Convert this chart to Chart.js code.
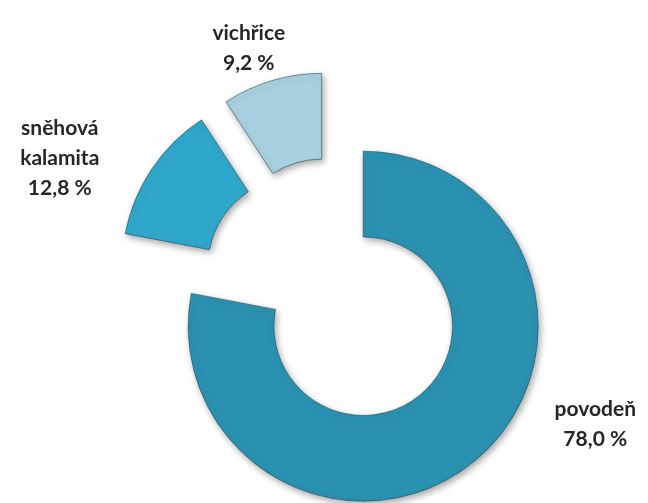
<!DOCTYPE html>
<html>
<head>
<meta charset="utf-8">
<script src="https://cdn.jsdelivr.net/npm/chart.js@4.4.1/dist/chart.umd.min.js"></script>
<style>
  html, body { margin: 0; padding: 0; background: #ffffff; }
  #wrap { width: 648px; height: 503px; }
</style>
</head>
<body>
<div id="wrap"><canvas id="c" width="648" height="503"></canvas></div>
<script>
// ---- data ----
const categories = ['povodeň', 'sněhová kalamita', 'vichřice'];
const categoryLines = [['povodeň'], ['sněhová', 'kalamita'], ['vichřice']];
const shares = [78.0, 12.8, 9.2];
const shareLabels = ['78,0 %', '12,8 %', '9,2 %'];

// ---- styles ----
const sliceColors = ['#2B91B1', '#2FA7CB', '#A9D0E0'];
const EXPLODE = 45;
// label anchors, in units of outer radius, relative to the ring centre
const labelAnchors = [[1.49, 0.76], [-1.57, -0.76], [-0.49, -1.39]];

const explodePlugin = {
  id: 'explode',
  beforeDatasetDraw(chart, args) {
    const ctx = chart.ctx;
    const meta = args.meta;
    meta.data.forEach((arc) => {
      const mid = (arc.startAngle + arc.endAngle) / 2;
      ctx.save();
      ctx.translate(Math.cos(mid) * EXPLODE, Math.sin(mid) * EXPLODE);
      ctx.shadowColor = 'rgba(0,0,0,0.35)';
      ctx.shadowBlur = 7;
      ctx.shadowOffsetX = 2;
      ctx.shadowOffsetY = 3;
      arc.draw(ctx);
      ctx.restore();
    });
    return false;
  },
  afterDraw(chart) {
    const ctx = chart.ctx;
    const arc0 = chart.getDatasetMeta(0).data[0];
    const cx = arc0.x, cy = arc0.y, R = arc0.outerRadius;
    ctx.save();
    ctx.fillStyle = '#262626';
    ctx.font = 'bold 21px Lato, "Open Sans", sans-serif';
    ctx.textAlign = 'center';
    ctx.textBaseline = 'middle';
    const lh = 30;
    categories.forEach((c, i) => {
      const lines = categoryLines[i].concat([shareLabels[i]]);
      const x = cx + labelAnchors[i][0] * R;
      const y = cy + labelAnchors[i][1] * R;
      const top = y - (lines.length - 1) * lh / 2;
      lines.forEach((t, j) => ctx.fillText(t, x, top + j * lh));
    });
    ctx.restore();
  }
};

new Chart(document.getElementById('c'), {
  type: 'doughnut',
  data: {
    labels: categories,
    datasets: [{
      data: shares,
      backgroundColor: sliceColors,
      borderColor: 'rgba(20,70,90,0.55)',
      borderWidth: 1
    }]
  },
  options: {
    responsive: false,
    animation: false,
    cutout: '51%',
    layout: { padding: { left: 159, right: 138, top: 116, bottom: 36 } },
    plugins: {
      legend: { display: false },
      tooltip: { enabled: false }
    }
  },
  plugins: [explodePlugin]
});
</script>
</body>
</html>
